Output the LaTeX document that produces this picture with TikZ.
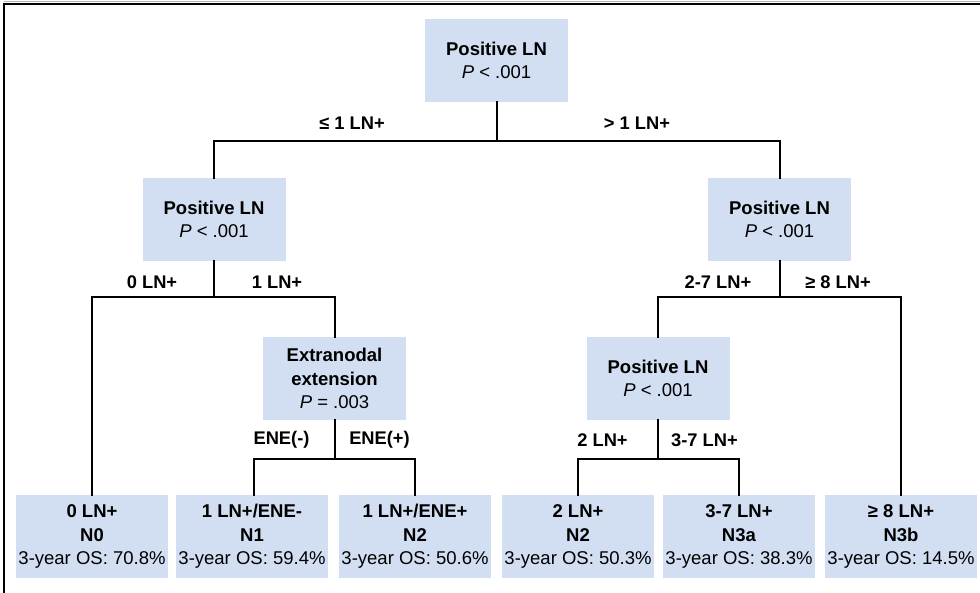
\documentclass[tikz,border=0pt]{standalone}
\usepackage{fontspec}
\setmainfont{Liberation Sans}
\definecolor{boxblue}{RGB}{210,222,242}
\begin{document}
\begin{tikzpicture}[x=1pt,y=-1pt,
  box/.style={fill=boxblue, draw=none, minimum width=143pt, minimum height=83pt, inner sep=0pt, align=center, font=\fontsize{18.5}{23.3}\selectfont},
  leaf/.style={box, minimum width=152pt},
  lbl/.style={font=\bfseries\fontsize{18.3}{22.5}\selectfont, inner sep=0pt},
  edge/.style={line width=2pt, line cap=rect}]
\useasboundingbox (0,0) rectangle (980,593);
% frame
\draw[gray!60, line width=1pt] (4,1.5) -- (980,1.5);
\draw[line width=1.6pt] (4,593) -- (4,3.8) -- (980,3.8);
% nodes
\node[box] (root) at (496.5,60.5) {\textbf{Positive LN}\\\textit{P} < .001};
\node[box] (L) at (214,219.5) {\textbf{Positive LN}\\\textit{P} < .001};
\node[box] (R) at (779.5,219.5) {\textbf{Positive LN}\\\textit{P} < .001};
\node[box] (ENE) at (334.5,378.5) {\textbf{Extranodal}\\\textbf{extension}\\\textit{P} = .003};
\node[box] (RL) at (658,378.5) {\textbf{Positive LN}\\\textit{P} < .001};
\node[leaf] (b1) at (92,536.5) {\textbf{0 LN+}\\\textbf{N0}\\3-year OS: 70.8\%};
\node[leaf] (b2) at (252,536.5) {\textbf{1 LN+/ENE-}\\\textbf{N1}\\3-year OS: 59.4\%};
\node[leaf] (b3) at (415,536.5) {\textbf{1 LN+/ENE+}\\\textbf{N2}\\3-year OS: 50.6\%};
\node[leaf] (b4) at (578,536.5) {\textbf{2 LN+}\\\textbf{N2}\\3-year OS: 50.3\%};
\node[leaf] (b5) at (739,536.5) {\textbf{3-7 LN+}\\\textbf{N3a}\\3-year OS: 38.3\%};
\node[leaf] (b6) at (901,536.5) {\textbf{≥ 8 LN+}\\\textbf{N3b}\\3-year OS: 14.5\%};
% junction coordinates
\coordinate (j0) at (496.5,141);
\coordinate (j1) at (214,297);
\coordinate (j2) at (779.5,297);
\coordinate (j3) at (334.5,459);
\coordinate (j4) at (658,459);
% connectors
\draw[edge] (root.south) -- (j0);
\draw[edge] (L.north) -- (L.north |- j0) -- (R.north |- j0) -- (R.north);
\draw[edge] (L.south) -- (j1);
\draw[edge] (b1.north) -- (b1.north |- j1) -- (ENE.north |- j1) -- (ENE.north);
\draw[edge] (R.south) -- (j2);
\draw[edge] (RL.north) -- (RL.north |- j2) -- (b6.north |- j2) -- (b6.north);
\draw[edge] (ENE.south) -- (j3);
\draw[edge] ([xshift=2pt]b2.north) -- ([xshift=2pt]b2.north |- j3) -- (b3.north |- j3) -- (b3.north);
\draw[edge] (RL.south) -- (j4);
\draw[edge] (b4.north) -- (b4.north |- j4) -- (b5.north |- j4) -- (b5.north);
% labels
\node[lbl] (t1) at (352,123) {≤ 1 LN+};
\node[lbl] (t2) at (637,123) {> 1 LN+};
\node[lbl] (t3) at (152,282) {0 LN+};
\node[lbl] (t4) at (277,282) {1 LN+};
\node[lbl] (t5) at (718,282) {2-7 LN+};
\node[lbl] (t6) at (838,282) {≥ 8 LN+};
\node[lbl] (t7) at (281.5,440) {ENE(-)};
\node[lbl] (t8) at (379.5,440) {ENE(+)};
\node[lbl] (t9) at (602.5,440) {2 LN+};
\node[lbl] (t10) at (704.5,440) {3-7 LN+};
\end{tikzpicture}
\end{document}
